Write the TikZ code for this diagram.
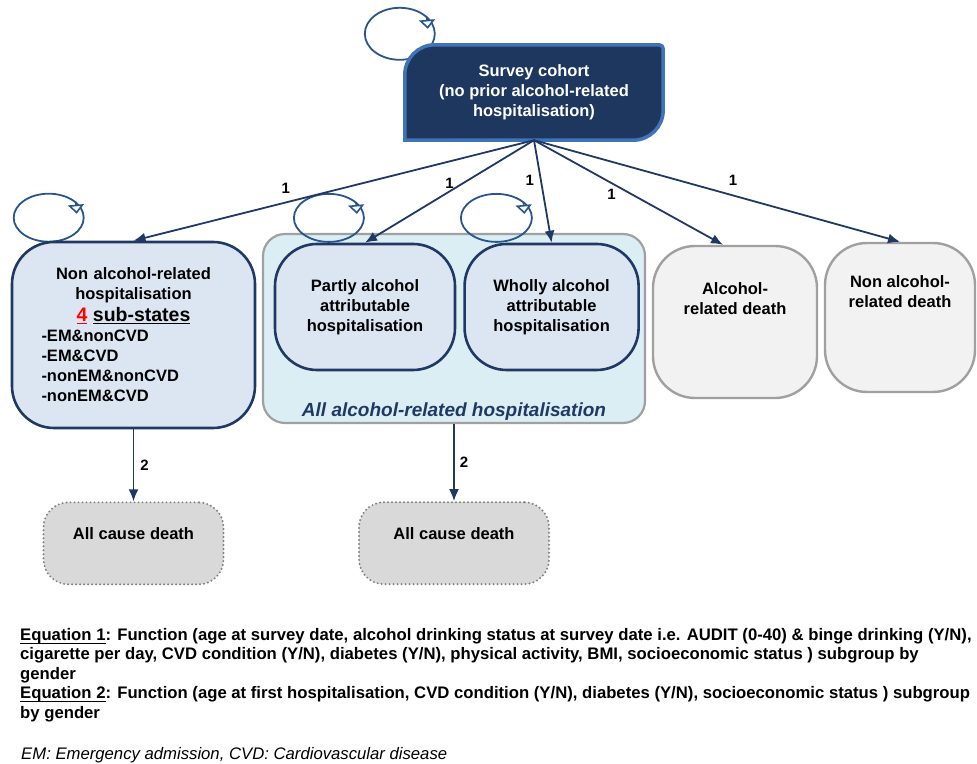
\documentclass[tikz,border=0pt]{standalone}
\usepackage{fontspec}
\setmainfont{Liberation Sans}
\usepackage{xcolor}
\usetikzlibrary{arrows.meta,positioning,backgrounds}
\definecolor{navy}{RGB}{31,56,100}
\definecolor{cohortfill}{RGB}{30,55,95}
\definecolor{cohortline}{RGB}{65,115,185}
\definecolor{statefill}{RGB}{220,230,242}
\definecolor{groupfill}{RGB}{218,238,243}
\definecolor{groupline}{RGB}{160,160,160}
\definecolor{deathfill}{RGB}{242,242,242}
\definecolor{causefill}{RGB}{217,217,217}
\definecolor{causeline}{RGB}{128,128,128}
\definecolor{loopblue}{RGB}{40,85,140}
\newcommand{\boxfont}{\bfseries\fontsize{16.5}{20}\selectfont}
\newcommand{\equline}[1]{\setbox0\hbox{#1}\rlap{\rule[-3.5pt]{\wd0}{1.2pt}}\box0}

\begin{document}
\begin{tikzpicture}[x=1pt,y=1pt,>={Latex[length=12pt,width=10pt]},
  statebox/.style={draw=navy,line width=2.6pt,fill=statefill,rounded corners=42pt,align=center,font=\boxfont},
  deathbox/.style={draw=groupline,line width=2.4pt,fill=deathfill,rounded corners=42pt,align=center,font=\boxfont},
  causebox/.style={draw=causeline,line width=2.2pt,line cap=round,dash pattern=on 0pt off 4pt,fill=causefill,rounded corners=25pt,align=center,font=\boxfont},
  trans/.style={->,draw=navy,line width=1.8pt},
  loopline/.style={draw=loopblue,line width=1.8pt},
  selfloop/.style={-{Triangle[length=9pt,width=16pt,fill=white,line width=1.6pt]},draw=loopblue,line width=1.6pt},
  prob/.style={font=\bfseries\fontsize{15}{18}\selectfont,inner sep=2pt}]
\useasboundingbox (0,0) rectangle (977,763);

% starting state
\node[text=white,align=center,font=\boxfont,minimum width=258pt,minimum height=95pt] (cohort) at (534,670.5) {Survey cohort\\(no prior alcohol-related\\hospitalisation)};
\coordinate (cohortloop) at ([shift={(-5,11)}]cohort.north west);
\begin{scope}[on background layer]
\draw[loopline] (cohortloop) ellipse[x radius=35pt,y radius=26pt];
\filldraw[fill=cohortfill,draw=cohortline,line width=3.5pt] (cohort.south west) -- ([yshift=-30pt]cohort.north west) arc[start angle=180,end angle=90,radius=30pt] -- ([xshift=-4pt]cohort.north east) arc[start angle=90,end angle=0,radius=4pt] -- ([yshift=30pt]cohort.south east) arc[start angle=0,end angle=-90,radius=30pt] -- cycle;
\end{scope}

% hospitalisation states
\node[statebox,align=left,text width=200pt,minimum width=243pt,minimum height=186pt] (nonalc) at (133.5,428) {\makebox[\linewidth]{Non alcohol-related}\\\makebox[\linewidth]{hospitalisation}\\[2pt]
\makebox[\linewidth]{\fontsize{19.5}{23}\selectfont{\color{red}\underline{4}} \underline{sub-states}}\\
\hspace*{8pt}-EM\&nonCVD\\\hspace*{8pt}-EM\&CVD\\\hspace*{8pt}-nonEM\&nonCVD\\\hspace*{8pt}-nonEM\&CVD};
\coordinate (nonalcloop) at ([shift={(38,23)}]nonalc.north west);
\begin{scope}[on background layer]
\draw[loopline] (nonalcloop) ellipse[x radius=35pt,y radius=24pt];
\end{scope}

\node[draw=groupline,line width=2.2pt,fill=groupfill,rounded corners=22pt,minimum width=382pt,minimum height=189pt,
  label={[anchor=south,yshift=0pt,text=navy,font=\bfseries\itshape\fontsize{19}{22}\selectfont]south:All alcohol-related hospitalisation}] (group) at (454,434.5) {};
\coordinate (partlyloop) at ([shift={(67,15)}]group.north west);
\coordinate (whollyloop) at ([shift={(234.5,15)}]group.north west);
\draw[loopline] (partlyloop) ellipse[x radius=35pt,y radius=24pt];
\draw[loopline] (whollyloop) ellipse[x radius=35.5pt,y radius=24pt];
\node[statebox,minimum width=180pt,minimum height=126pt] (partly) at (365,456) {Partly alcohol\\attributable\\hospitalisation};
\node[statebox,minimum width=174pt,minimum height=126pt,right=7pt of partly] (wholly) {Wholly alcohol\\attributable\\hospitalisation};

% death states
\node[deathbox,minimum width=164pt,minimum height=152pt,text depth=46pt] (aldeath) at (735,441) {Alcohol-\\related death};
\node[deathbox,minimum width=150pt,minimum height=149pt,text depth=51pt] (nondeath) at (900,445.5) {Non alcohol-\\related death};
\node[causebox,minimum width=180pt,minimum height=82pt,text depth=20pt,below=72pt of nonalc] (cause1) {All cause death};
\node[causebox,minimum width=190pt,minimum height=82pt,text depth=20pt,below=77pt of group] (cause2) {All cause death};

% transitions
\draw[trans] (cohort.south) -- node[prob,pos=0.62,above=6pt]{1} (nonalc.north);
\draw[trans] (cohort.south) -- node[prob,pos=0.5,above]{1} (partly.north);
\draw[trans] (cohort.south) -- node[prob,pos=0.39,left=4pt]{1} (wholly.north);
\draw[trans] (cohort.south) -- node[prob,pos=0.41,below=3pt]{1} ([xshift=-12pt]aldeath.north);
\draw[trans] (cohort.south) -- node[prob,pos=0.544,above=7pt]{1} (nondeath.north);
\draw[trans] (nonalc.south) -- node[prob,right=4pt]{2} (cause1.north);
\draw[trans] (group.south) -- node[prob,right=3pt]{2} (cause2.north);

% self loop arrowheads
\draw[selfloop] ([shift={(27,17)}]cohortloop) -- ([shift={(28,5)}]cohortloop);
\draw[selfloop] ([shift={(27,16)}]nonalcloop) -- ([shift={(28,4)}]nonalcloop);
\draw[selfloop] ([shift={(27,16)}]partlyloop) -- ([shift={(28,4)}]partlyloop);
\draw[selfloop] ([shift={(27,16)}]whollyloop) -- ([shift={(28,4)}]whollyloop);

% equations and note
\node[anchor=north west,align=left,inner sep=0pt,font=\bfseries\fontsize{16.7}{19.5}\selectfont] (eqs) at (20,135) {\equline{Equation 1}: Function (age at survey date, alcohol drinking status at survey date i.e. AUDIT (0-40) \& binge drinking (Y/N),\\
cigarette per day, CVD condition (Y/N), diabetes (Y/N), physical activity, BMI, socioeconomic status ) subgroup by\\
gender\\
\equline{Equation 2}: Function (age at first hospitalisation, CVD condition (Y/N), diabetes (Y/N), socioeconomic status ) subgroup\\
by gender};
\node[anchor=base west,inner sep=0pt,font=\itshape\fontsize{16.7}{19.5}\selectfont] (note) at (21,4) {EM: Emergency admission, CVD: Cardiovascular disease};
\end{tikzpicture}
\end{document}
